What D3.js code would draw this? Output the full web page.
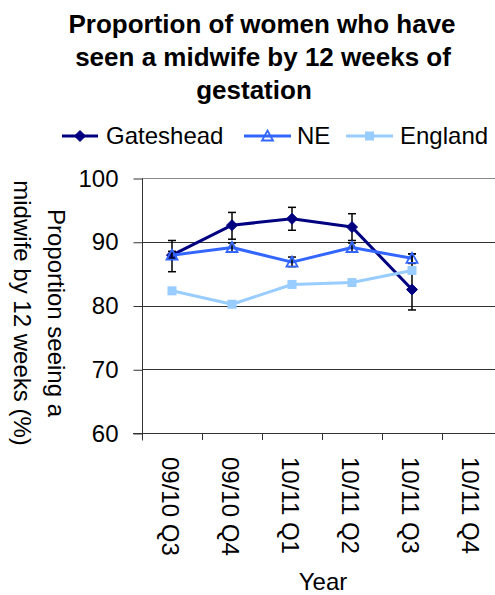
<!DOCTYPE html>
<html>
<head>
<meta charset="utf-8">
<script src="https://cdn.jsdelivr.net/npm/d3@7"></script>
<style>
  html, body { margin: 0; padding: 0; background: #fff; }
  svg { display: block; font-family: "Liberation Sans", Arial, sans-serif; }
</style>
</head>
<body>
<svg id="chart" width="495" height="595"></svg>
<script>
// ---- data ----
const categories = ["09/10 Q3", "09/10 Q4", "10/11 Q1", "10/11 Q2", "10/11 Q3", "10/11 Q4"];
const yTicks = [60, 70, 80, 90, 100];
const titleLines = ["Proportion of women who have", "seen a midwife by 12 weeks of", "gestation"];
const yTitleLines = ["Proportion seeing a", "midwife by 12 weeks (%)"];
const xTitle = "Year";

const gatesheadValues = [87.9, 92.6, 93.6, 92.3, 82.5];
const gatesheadLower  = [85.3, 90.4, 91.8, 90.2, 79.3];
const gatesheadUpper  = [90.2, 94.6, 95.4, 94.4, 88.1];

const neValues = [87.9, 89.1, 86.8, 89.1, 87.4];
const neLower  = [87.3, 88.4, 86.1, 88.4, 86.6];
const neUpper  = [88.5, 89.8, 87.6, 89.8, 88.1];

const englandValues = [82.3, 80.2, 83.3, 83.6, 85.5];

const seriesNames = ["Gateshead", "NE", "England"];

// ---- layout ----
const svg = d3.select("#chart");
const plot = { left: 142, right: 502, top: 178, bottom: 433 };
const x = d3.scaleBand().domain(categories).range([plot.left, plot.right]);
const y = d3.scaleLinear().domain([60, 100]).range([plot.bottom, plot.top]);
const cx = c => x(c) + x.bandwidth() / 2;

const series = [
  { name: seriesNames[0], values: gatesheadValues, lower: gatesheadLower, upper: gatesheadUpper, color: "#000080", marker: "diamond" },
  { name: seriesNames[1], values: neValues, lower: neLower, upper: neUpper, color: "#3366FF", marker: "triangle" },
  { name: seriesNames[2], values: englandValues, lower: null, upper: null, color: "#99CCFF", marker: "square" }
];

// ---- title ----
const titleX = [262, 263, 254];
const titleY = [33, 66, 99];
svg.append("g").selectAll("text").data(titleLines).join("text")
  .attr("x", (d, i) => titleX[i]).attr("y", (d, i) => titleY[i])
  .attr("text-anchor", "middle").attr("font-size", 26).attr("font-weight", "bold")
  .attr("fill", "#000").text(d => d);

// ---- gridlines ----
svg.append("g").selectAll("line").data(yTicks.filter(t => t > 60)).join("line")
  .attr("x1", plot.left).attr("x2", plot.right)
  .attr("y1", d => Math.round(y(d)) + 0.5).attr("y2", d => Math.round(y(d)) + 0.5)
  .attr("stroke", d => d === 100 ? "#888" : "#333").attr("stroke-width", 1);

// ---- axes ----
const yAxis = d3.axisLeft(y).tickValues(yTicks).tickSize(9).tickPadding(15).tickFormat(d3.format("d"));
const yg = svg.append("g").attr("transform", `translate(${plot.left + 0.5},0.5)`).call(yAxis);
yg.select(".domain").attr("stroke", "#333").attr("d", `M0,${plot.top}V${plot.bottom + 7}`);
yg.selectAll(".tick line").attr("stroke", "#333");
yg.selectAll(".tick text").attr("font-size", 24).attr("font-family", "Liberation Sans, Arial, sans-serif").attr("fill", "#000");

// x axis line and ticks at band boundaries
const xg = svg.append("g");
xg.append("line").attr("x1", plot.left - 9).attr("x2", plot.right)
  .attr("y1", Math.round(plot.bottom) + 0.5).attr("y2", Math.round(plot.bottom) + 0.5)
  .attr("stroke", "#333");
xg.selectAll("line.tk").data(categories).join("line").attr("class", "tk")
  .attr("x1", d => Math.round(x(d)) + 0.5).attr("x2", d => Math.round(x(d)) + 0.5)
  .attr("y1", plot.bottom).attr("y2", plot.bottom + 7).attr("stroke", "#333");
xg.selectAll("text").data(categories).join("text")
  .attr("transform", d => `translate(${cx(d) - 2},457) rotate(90)`)
  .attr("dy", "0.35em").attr("font-size", 24).attr("fill", "#000").text(d => d);

// axis titles
svg.append("text").attr("x", 323).attr("y", 590).attr("text-anchor", "middle")
  .attr("font-size", 24).attr("fill", "#000").text(xTitle);
const yt = svg.append("text").attr("transform", "translate(48,313) rotate(90)")
  .attr("text-anchor", "middle").attr("font-size", 24).attr("fill", "#000");
yt.selectAll("tspan").data(yTitleLines).join("tspan")
  .attr("x", 0).attr("y", (d, i) => i * 34).text(d => d);

// ---- markers ----
function drawMarker(g, type, color, px, py) {
  if (type === "diamond") {
    g.append("path").attr("d", `M${px},${py - 5.5}L${px + 5.5},${py}L${px},${py + 5.5}L${px - 5.5},${py}Z`)
      .attr("fill", color).attr("stroke", color).attr("stroke-width", 1);
  } else if (type === "triangle") {
    g.append("path").attr("d", `M${px},${py - 5.5}L${px + 5.5},${py + 4.5}L${px - 5.5},${py + 4.5}Z`)
      .attr("fill", "none").attr("stroke", color).attr("stroke-width", 1.8);
  } else {
    g.append("rect").attr("x", px - 4.5).attr("y", py - 4.5).attr("width", 9).attr("height", 9)
      .attr("fill", color);
  }
}

// ---- series ----
const line = d3.line().x((d, i) => cx(categories[i])).y(d => y(d));
series.forEach(s => {
  const g = svg.append("g");
  g.append("path").datum(s.values).attr("d", line)
    .attr("fill", "none").attr("stroke", s.color).attr("stroke-width", 3).attr("stroke-linejoin", "round");
  if (s.lower) {
    s.values.forEach((v, i) => {
      const px = cx(categories[i]);
      const eg = g.append("g").attr("stroke", "#000").attr("stroke-width", 1.5);
      eg.append("line").attr("x1", px).attr("x2", px).attr("y1", y(s.lower[i])).attr("y2", y(s.upper[i]));
      eg.append("line").attr("x1", px - 4).attr("x2", px + 4).attr("y1", y(s.lower[i])).attr("y2", y(s.lower[i]));
      eg.append("line").attr("x1", px - 4).attr("x2", px + 4).attr("y1", y(s.upper[i])).attr("y2", y(s.upper[i]));
    });
  }
  s.values.forEach((v, i) => drawMarker(g, s.marker, s.color, cx(categories[i]), y(v)));
});

// ---- legend ----
const legendItems = [
  { x1: 62, x2: 98, tx: 106 },
  { x1: 244, x2: 291, tx: 297 },
  { x1: 346, x2: 393, tx: 400 }
];
const ly = 136;
series.forEach((s, i) => {
  const li = legendItems[i];
  const g = svg.append("g");
  g.append("line").attr("x1", li.x1).attr("x2", li.x2).attr("y1", ly).attr("y2", ly)
    .attr("stroke", s.color).attr("stroke-width", 3);
  drawMarker(g, s.marker, s.color, (li.x1 + li.x2) / 2, ly);
  g.append("text").attr("x", li.tx).attr("y", ly).attr("dy", "0.35em")
    .attr("font-size", 24).attr("fill", "#000").text(s.name);
});
</script>
</body>
</html>
